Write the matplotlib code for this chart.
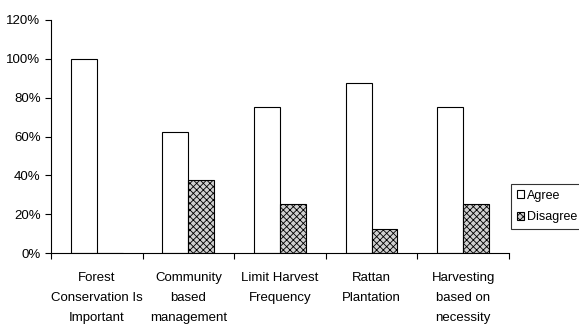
import numpy as np
import matplotlib.pyplot as plt

plt.rcParams['font.family'] = ['Liberation Sans', 'DejaVu Sans']
plt.rcParams['hatch.linewidth'] = 0.6

categories = ['Forest\nConservation Is\nImportant', 'Community\nbased\nmanagement',
              'Limit Harvest\nFrequency', 'Rattan\nPlantation', 'Harvesting\nbased on\nnecessity']
agree = [100, 62.5, 75, 87.5, 75]
disagree = [0, 37.5, 25, 12.5, 25]
yticks = [0, 20, 40, 60, 80, 100, 120]

fig = plt.figure(figsize=(5.79, 3.25), dpi=100)
ax = fig.add_axes([0.088, 0.2215, 0.791, 0.717])

x = np.arange(len(categories))
w = 0.283
ax.bar(x - w / 2, agree, w, color='white', edgecolor='black', linewidth=0.8, label='Agree')
ax.bar(x + w / 2, disagree, w, color='#d0d0d0', edgecolor='black', linewidth=0.8,
       hatch='xxxxx', label='Disagree')

ax.set_xlim(-0.5, len(categories) - 0.5)
ax.set_ylim(0, 120)
ax.set_yticks(yticks)
ax.set_yticklabels([f'{v}%' for v in yticks], fontsize=9.5)
ax.set_xticks(np.arange(len(categories) + 1) - 0.5)
ax.set_xticklabels([])
ax.set_xticks(x, minor=True)
ax.set_xticklabels(categories, minor=True, fontsize=9.5, linespacing=1.85, va='top')
ax.tick_params(axis='x', which='minor', length=0, pad=14)
ax.tick_params(axis='both', which='major', length=4, width=0.8, direction='out')
ax.spines['top'].set_visible(False)
ax.spines['right'].set_visible(False)

leg = ax.legend(loc='upper left', bbox_to_anchor=(1.005, 0.296), fontsize=9, frameon=True,
                fancybox=False, handlelength=0.6, handleheight=0.6, handletextpad=0.2,
                borderpad=0.45, labelspacing=0.75, borderaxespad=0)
leg.get_frame().set_edgecolor('black')
leg.get_frame().set_linewidth(0.8)

fig.savefig('out.png', dpi=100)
